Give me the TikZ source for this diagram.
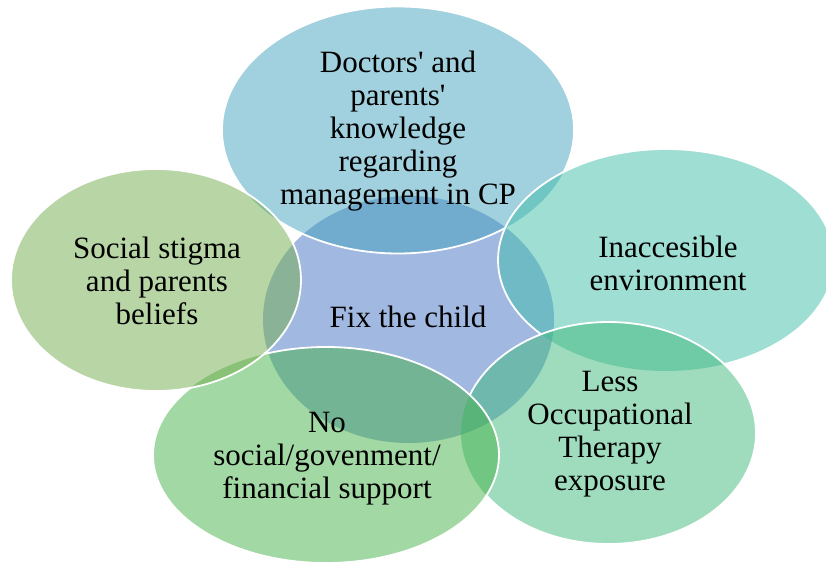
\documentclass[tikz,border=0pt]{standalone}
\usepackage{fontspec}
\setmainfont{Liberation Serif}
\usetikzlibrary{shapes.geometric}
\definecolor{hubblue}{HTML}{4472C4}
\definecolor{knowblue}{HTML}{43A1BD}
\definecolor{envteal}{HTML}{3FBDA7}
\definecolor{therapygreen}{HTML}{3FB97B}
\definecolor{supportgreen}{HTML}{45B147}
\definecolor{stigmagreen}{HTML}{71AD4B}

% the six ellipses of the diagram
\newcommand\hubshape{(408.5,319.5) ellipse [x radius=145.5pt, y radius=123.5pt]}
\newcommand\knowshape{(398,130) ellipse [x radius=176pt, y radius=123.5pt]}
\newcommand\envshape{(666,260) ellipse [x radius=168pt, y radius=111pt]}
\newcommand\therapyshape{(608.5,433) ellipse [x radius=147.5pt, y radius=111pt]}
\newcommand\supportshape{(326,455) ellipse [x radius=173pt, y radius=108pt]}
\newcommand\stigmashape{(156,280) ellipse [x radius=145pt, y radius=111pt]}
% clip away the inside of one ellipse (scope must use even odd rule)
\newcommand\cutout[1]{\clip (-20,-20) rectangle (860,600) #1;}

\begin{document}
\begin{tikzpicture}[
  x=1pt, y=-1pt,
  blob/.style={fill opacity=0.5},
  rim/.style={draw=white, line width=1.8pt},
  txt/.style={align=center, inner sep=0pt, font=\fontsize{31}{33}\selectfont}
]
  \useasboundingbox (0,0) rectangle (826,564);

  % fills, centre first
  \fill[blob, hubblue] \hubshape;
  \fill[blob, knowblue] \knowshape;
  \fill[blob, envteal] \envshape;
  \fill[blob, therapygreen] \therapyshape;
  \fill[blob, supportgreen] \supportshape;
  \fill[blob, stigmagreen] \stigmashape;

  % white rims, hidden under the ellipses laid on later
  \begin{scope}[even odd rule]
    \cutout{\envshape}\cutout{\therapyshape}\cutout{\supportshape}\cutout{\stigmashape}
    \draw[rim] \knowshape;
  \end{scope}
  \begin{scope}[even odd rule]
    \cutout{\therapyshape}\cutout{\supportshape}\cutout{\stigmashape}
    \draw[rim] \envshape;
  \end{scope}
  \begin{scope}[even odd rule]
    \cutout{\supportshape}\cutout{\stigmashape}
    \draw[rim] \therapyshape;
  \end{scope}
  \begin{scope}[even odd rule]
    \cutout{\stigmashape}
    \draw[rim] \supportshape;
  \end{scope}
  \draw[rim] \stigmashape;

  % labels
  \node[txt] (hub) at (408,317) {Fix the child};
  \node[txt] (know) at (398,131) {Doctors\textquotesingle{} and\\parents\textquotesingle\\knowledge\\regarding\\management in CP};
  \node[txt] (env) at (668,263) {Inaccesible\\environment};
  \node[txt] (therapy) at (610,434) {Less\\Occupational\\Therapy\\exposure};
  \node[txt] (support) at (327,459) {No\\social/govenment/\\financial support};
  \node[txt] (stigma) at (157,281) {Social stigma\\and parents\\beliefs};
\end{tikzpicture}
\end{document}
